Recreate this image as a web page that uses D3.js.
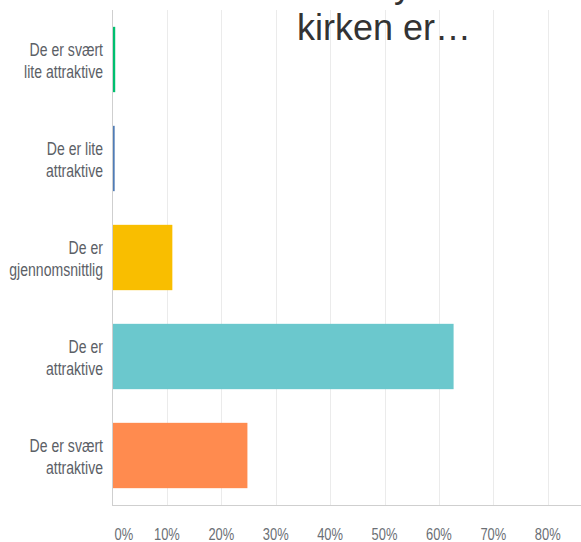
<!DOCTYPE html>
<html lang="no">
<head>
<meta charset="utf-8">
<script src="https://d3js.org/d3.v7.min.js"></script>
<style>
  body { margin: 0; background: #fff; }
  svg { display: block; }
</style>
</head>
<body>
<script>
  var w = 581;
  var h = 542;

  // data
  var categories = [
    ["De er svært", "lite attraktive"],
    ["De er lite", "attraktive"],
    ["De er", "gjennomsnittlig"],
    ["De er", "attraktive"],
    ["De er svært", "attraktive"]
  ];
  var values = [0.5, 0.4, 11.0, 62.7, 24.8];
  var colors = ["#00bf6f", "#507cb6", "#f9be00", "#6bc8cd", "#ff8b4f"];
  var ticks = [0, 10, 20, 30, 40, 50, 60, 70, 80];
  var titleLine = "kirken er…";

  var x0 = 112.5, plotTop = 10, plotBottom = 505;
  var labelFont = "'Liberation Sans', Arial, sans-serif";

  var x = d3.scaleLinear().domain([0, 80]).range([x0, 547.7]);
  var y = d3.scaleBand()
    .domain(d3.range(categories.length))
    .range([plotTop, plotBottom])
    .paddingInner(0.34)
    .paddingOuter(0.17);

  var svg = d3.select("body").append("svg")
    .attr("width", w)
    .attr("height", h);

  // gridlines
  svg.append("g").selectAll("line")
    .data(ticks.slice(1))
    .join("line")
    .attr("x1", d => Math.round(x(d)) + 0.5)
    .attr("x2", d => Math.round(x(d)) + 0.5)
    .attr("y1", plotTop)
    .attr("y2", plotBottom)
    .attr("stroke", "#ebebeb")
    .attr("stroke-width", 1);

  // title (first line is cut off above the picture)
  svg.append("text")
    .attr("x", 394)
    .attr("y", -3)
    .attr("font-family", "'Liberation Sans', Arial, sans-serif")
    .attr("font-size", 36)
    .attr("fill", "#333")
    .text("y");
  svg.append("text")
    .attr("x", 297)
    .attr("y", 40)
    .attr("font-family", "'Liberation Sans', Arial, sans-serif")
    .attr("font-size", 36)
    .attr("fill", "#333")
    .text(titleLine);

  // bars
  svg.append("g").selectAll("rect")
    .data(values)
    .join("rect")
    .attr("x", x(0))
    .attr("y", (d, i) => y(i))
    .attr("width", d => x(d) - x(0))
    .attr("height", y.bandwidth())
    .attr("fill", (d, i) => colors[i]);

  // axis lines
  svg.append("line")
    .attr("x1", 112.5).attr("x2", 112.5)
    .attr("y1", plotTop).attr("y2", plotBottom + 0.5)
    .attr("stroke", "#cfcfcf");
  svg.append("line")
    .attr("x1", 112).attr("x2", w)
    .attr("y1", plotBottom + 0.5).attr("y2", plotBottom + 0.5)
    .attr("stroke", "#cfcfcf");

  // category labels
  var lab = svg.append("g").selectAll("text")
    .data(categories)
    .join("text")
    .attr("text-anchor", "end")
    .attr("font-family", labelFont)
    .attr("font-size", 18.5)
    .attr("fill", "#5b6066")
    .attr("transform", (d, i) => `translate(103, ${y(i) + y.bandwidth() / 2}) scale(0.76, 1)`);
  lab.selectAll("tspan")
    .data(d => d)
    .join("tspan")
    .attr("x", 0)
    .attr("y", (d, j) => j === 0 ? -4 : 18.5)
    .text(d => d);

  // tick labels
  svg.append("g").selectAll("text")
    .data(ticks)
    .join("text")
    .attr("transform", d => `translate(${d === 0 ? x(0) + 2 : x(d)}, 540) scale(0.76, 1)`)
    .attr("text-anchor", d => d === 0 ? "start" : "middle")
    .attr("font-family", labelFont)
    .attr("font-size", 17)
    .attr("fill", "#6b6f75")
    .text(d => d + "%");
</script>
</body>
</html>
